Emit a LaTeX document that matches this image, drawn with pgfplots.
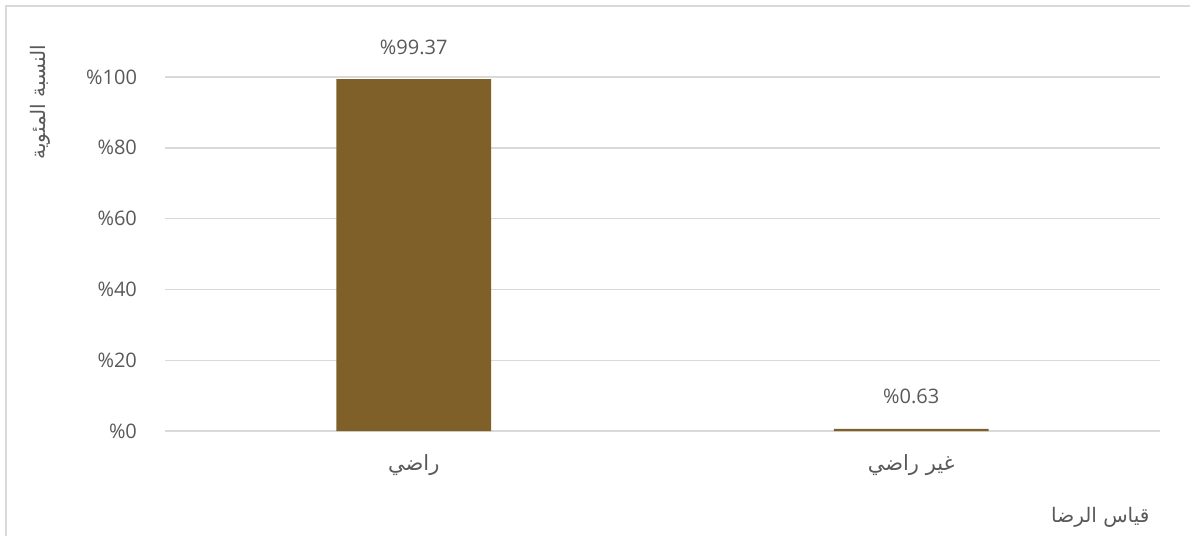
\documentclass[border=0pt]{standalone}
\usepackage{fontspec}
\setmainfont{Open Sans}
\newfontfamily\arabicfont[Script=Arabic]{DejaVu Sans}
\TeXXeTstate=1
\usepackage{pgfplots}
\pgfplotsset{compat=1.18}
\definecolor{barbrown}{RGB}{127,96,41}
\definecolor{txtgray}{RGB}{89,89,89}
\definecolor{gridgray}{RGB}{217,217,217}
\begin{document}
\begin{tikzpicture}
% picture frame: 1 px of the reference = 0.5pt
\useasboundingbox (0,0) rectangle (595pt,-268pt);
\draw[gridgray, line width=1pt] (2.75pt,-268pt) -- (2.75pt,-2.75pt) -- (595pt,-2.75pt);
\begin{axis}[
    at={(82.5pt,-215.5pt)}, anchor=south west,
    scale only axis,
    width=497.5pt, height=177pt,
    xmin=-0.5, xmax=1.5,
    ymin=0, ymax=100,
    xtick={0,1},
    xticklabels={{\arabicfont\beginR راضي\endR},{\arabicfont\beginR غير راضي\endR}},
    ytick={0,20,40,60,80,100},
    yticklabel={\%\pgfmathprintnumber{\tick}},
    /pgf/number format/assume math mode=true,
    ymajorgrids,
    grid style={gridgray, line width=0.7pt},
    axis line style={draw=none},
    major tick length=0pt,
    tick label style={font=\fontsize{10}{12}\selectfont, text=txtgray},
    xticklabel style={anchor=center, yshift=-17pt, font=\fontsize{10.5}{12}\selectfont},
    yticklabel style={anchor=east, xshift=-10.5pt},
    ylabel={\arabicfont\beginR النسبة المئوية\endR},
    ylabel style={at={(rel axis cs:-0.1256,0.929)}, anchor=center, rotate=0, font=\fontsize{10}{12}\selectfont, text=txtgray},
    xlabel={\arabicfont\beginR قياس الرضا\endR},
    xlabel style={at={(rel axis cs:0.94,-0.243)}, anchor=center, font=\fontsize{10}{12}\selectfont, text=txtgray},
    clip=false,
]
\addplot[ybar, bar width=0.311, fill=barbrown, draw=none,
    nodes near coords={\%\pgfmathprintnumber[fixed,fixed zerofill,precision=2]{\pgfplotspointmeta}},
    every node near coord/.append style={anchor=center, yshift=16pt, font=\fontsize{10}{12}\selectfont, text=txtgray},
] coordinates {(0,99.37) (1,0.63)};
\end{axis}
\end{tikzpicture}
\end{document}
